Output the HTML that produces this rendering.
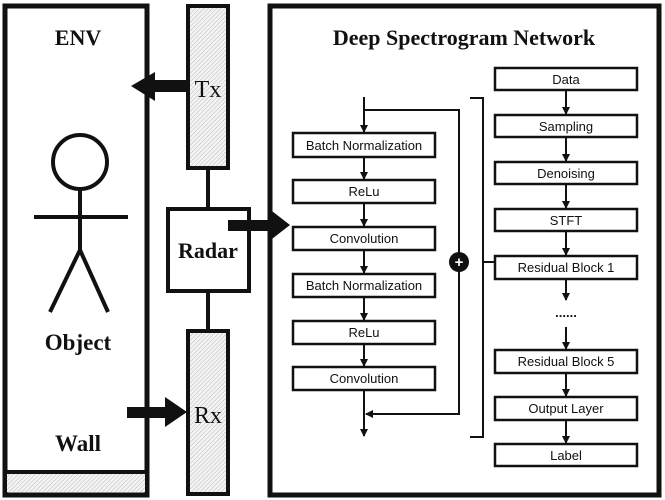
<!DOCTYPE html>
<html><head><meta charset="utf-8"><style>
html,body{margin:0;padding:0;background:#fff;}
svg{display:block;}
.s{font-family:"Liberation Sans",sans-serif;font-size:13px;fill:#111;}
.b{font-family:"Liberation Serif",serif;font-weight:bold;fill:#111;}
</style></head><body>
<svg width="665" height="500" viewBox="0 0 665 500" xmlns="http://www.w3.org/2000/svg">
<defs>
<pattern id="h" width="3" height="3" patternUnits="userSpaceOnUse" patternTransform="rotate(45)">
<rect width="3" height="3" fill="#f4f4f4"/><line x1="0" y1="0" x2="0" y2="3" stroke="#aaa" stroke-width="0.8"/>
</pattern>
<marker id="a" markerWidth="8" markerHeight="8" refX="7" refY="4" orient="auto" markerUnits="userSpaceOnUse">
<path d="M0,0 L8,4 L0,8 Z" fill="#111"/></marker>
</defs>
<!-- ENV -->
<rect x="5" y="6" width="142" height="489" fill="#fff" stroke="#111" stroke-width="5"/>
<rect x="7" y="474" width="138" height="18" fill="url(#h)"/>
<line x1="5" y1="472" x2="147" y2="472" stroke="#111" stroke-width="4"/>
<text x="78" y="45" class="b" font-size="22" text-anchor="middle">ENV</text>
<circle cx="80" cy="162" r="27" fill="none" stroke="#111" stroke-width="4"/>
<line x1="80" y1="189" x2="80" y2="252" stroke="#111" stroke-width="4"/>
<line x1="34" y1="217" x2="128" y2="217" stroke="#111" stroke-width="4"/>
<path d="M50,312 L80,250 L108,312" fill="none" stroke="#111" stroke-width="4"/>
<text x="78" y="350" class="b" font-size="23" text-anchor="middle">Object</text>
<text x="78" y="451" class="b" font-size="23" text-anchor="middle">Wall</text>
<!-- Tx / Rx -->
<rect x="188" y="6" width="40" height="162" fill="url(#h)" stroke="#111" stroke-width="4"/>
<rect x="188" y="331" width="40" height="163" fill="url(#h)" stroke="#111" stroke-width="4"/>
<text x="208" y="97" font-family="Liberation Serif,serif" font-size="24" fill="#111" text-anchor="middle">Tx</text>
<text x="208" y="423" font-family="Liberation Serif,serif" font-size="24" fill="#111" text-anchor="middle">Rx</text>
<line x1="208" y1="168" x2="208" y2="208" stroke="#111" stroke-width="4"/>
<line x1="208" y1="292" x2="208" y2="331" stroke="#111" stroke-width="4"/>
<rect x="168" y="209" width="81" height="82" fill="#fff" stroke="#111" stroke-width="4"/>
<text x="208" y="258" class="b" font-size="22" text-anchor="middle">Radar</text>
<!-- arrows -->
<path d="M187,80 L155,80 L155,72 L131,86 L155,101 L155,92 L187,92 Z" fill="#111"/>
<path d="M127,407 L165,407 L165,397 L187,412 L165,427 L165,418 L127,418 Z" fill="#111"/>
<!-- DSN -->
<rect x="270" y="6" width="389" height="489" fill="#fff" stroke="#111" stroke-width="5"/>
<path d="M228,220 L268,220 L268,208 L290,225 L268,242 L268,231 L228,231 Z" fill="#111"/>
<text x="464" y="45" class="b" font-size="22" text-anchor="middle">Deep Spectrogram Network</text>
<g stroke="#111" stroke-width="2.5" fill="#fff">
<rect x="293" y="133" width="142" height="24"/>
<rect x="293" y="180" width="142" height="23"/>
<rect x="293" y="227" width="142" height="23"/>
<rect x="293" y="274" width="142" height="23"/>
<rect x="293" y="321" width="142" height="23"/>
<rect x="293" y="367" width="142" height="23"/>
<rect x="495" y="68" width="142" height="22"/>
<rect x="495" y="115" width="142" height="22"/>
<rect x="495" y="162" width="142" height="22"/>
<rect x="495" y="209" width="142" height="22"/>
<rect x="495" y="256" width="142" height="23"/>
<rect x="495" y="350" width="142" height="23"/>
<rect x="495" y="397" width="142" height="23"/>
<rect x="495" y="444" width="142" height="22"/>
</g>
<g stroke="#111" stroke-width="2" fill="none" marker-end="url(#a)">
<line x1="364" y1="97" x2="364" y2="132"/>
<line x1="364" y1="158" x2="364" y2="179"/>
<line x1="364" y1="204" x2="364" y2="226"/>
<line x1="364" y1="251" x2="364" y2="273"/>
<line x1="364" y1="298" x2="364" y2="320"/>
<line x1="364" y1="345" x2="364" y2="366"/>
<line x1="364" y1="391" x2="364" y2="436"/>
<path d="M364,110 L459,110 L459,414 L366,414"/>
<line x1="566" y1="91" x2="566" y2="114"/>
<line x1="566" y1="138" x2="566" y2="161"/>
<line x1="566" y1="185" x2="566" y2="208"/>
<line x1="566" y1="232" x2="566" y2="255"/>
<line x1="566" y1="280" x2="566" y2="300"/>
<line x1="566" y1="327" x2="566" y2="349"/>
<line x1="566" y1="374" x2="566" y2="396"/>
<line x1="566" y1="421" x2="566" y2="443"/>
</g>
<path d="M470,98 L483,98 L483,437 L470,437 M483,262 L495,262" stroke="#111" stroke-width="2" fill="none"/>
<circle cx="459" cy="262" r="10" fill="#111"/>
<text x="459" y="267" font-family="Liberation Sans,sans-serif" font-size="15" font-weight="bold" fill="#fff" text-anchor="middle">+</text>
<text x="566" y="317" class="s" text-anchor="middle" font-weight="bold">......</text>
<g class="s" text-anchor="middle">
<text x="364" y="150">Batch Normalization</text>
<text x="364" y="196">ReLu</text>
<text x="364" y="243">Convolution</text>
<text x="364" y="290">Batch Normalization</text>
<text x="364" y="337">ReLu</text>
<text x="364" y="383">Convolution</text>
<text x="566" y="84">Data</text>
<text x="566" y="131">Sampling</text>
<text x="566" y="178">Denoising</text>
<text x="566" y="225">STFT</text>
<text x="566" y="272">Residual Block 1</text>
<text x="566" y="366">Residual Block 5</text>
<text x="566" y="413">Output Layer</text>
<text x="566" y="460">Label</text>
</g>
</svg>
</body></html>
